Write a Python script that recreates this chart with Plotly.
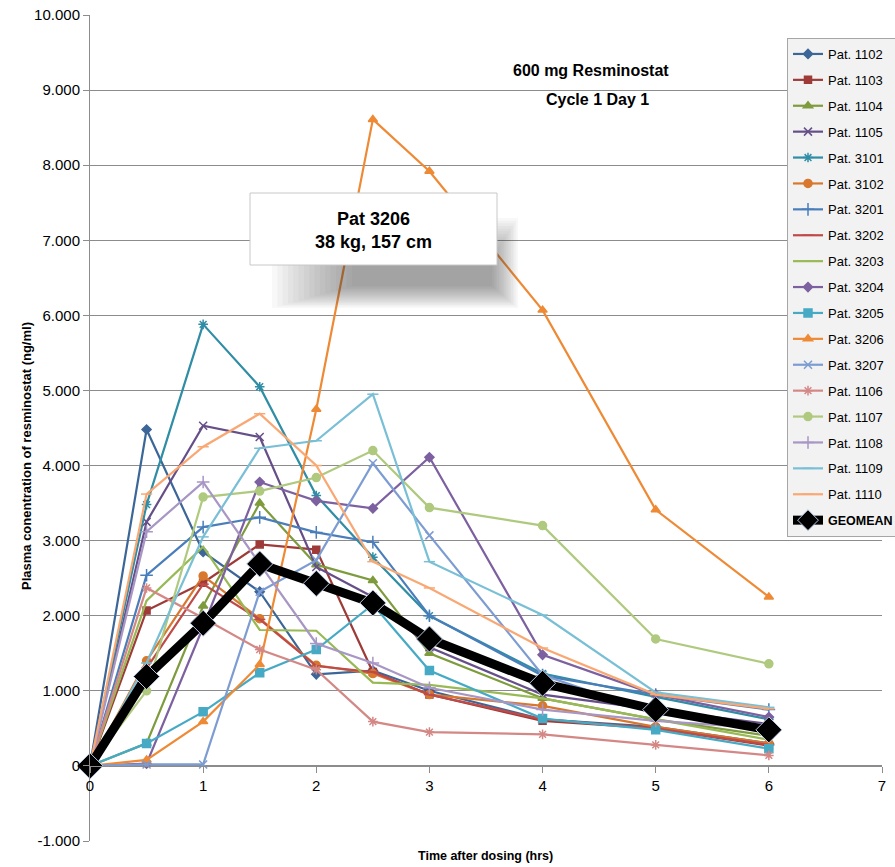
import plotly.graph_objects as go

# ---------------- data (ng/ml) ----------------
times = [0, 0.5, 1, 1.5, 2, 2.5, 3, 4, 5, 6]

patients = ["Pat. 1102", "Pat. 1103", "Pat. 1104", "Pat. 1105", "Pat. 3101", "Pat. 3102",
            "Pat. 3201", "Pat. 3202", "Pat. 3203", "Pat. 3204", "Pat. 3205", "Pat. 3206",
            "Pat. 3207", "Pat. 1106", "Pat. 1107", "Pat. 1108", "Pat. 1109", "Pat. 1110"]

pat_1102 = [0, 4480, 2850, 2320, 1220, 1270, 1000, 620, 520, 300]
pat_1103 = [0, 2070, 2440, 2950, 2880, 1250, 950, 600, 500, 270]
pat_1104 = [0, 300, 2130, 3500, 2680, 2470, 1500, 900, 620, 400]
pat_1105 = [0, 3250, 4530, 4380, 2650, 2250, 1580, 950, 750, 560]
pat_3101 = [0, 3480, 5880, 5050, 3600, 2780, 2000, 1230, 920, 620]
pat_3102 = [0, 1400, 2530, 1960, 1340, 1230, 950, 800, 520, 300]
pat_3201 = [0, 2540, 3180, 3310, 3110, 2980, 2000, 1200, 950, 750]
pat_3202 = [0, 1300, 2420, 1950, 1330, 1250, 950, 620, 500, 280]
pat_3203 = [0, 2200, 2920, 1810, 1800, 1110, 1080, 900, 620, 350]
pat_3204 = [0, 30, 1850, 3780, 3530, 3430, 4110, 1480, 950, 650]
pat_3205 = [0, 300, 720, 1240, 1550, 2150, 1270, 630, 480, 230]
pat_3206 = [0, 80, 590, 1350, 4750, 8610, 7920, 6070, 3410, 2250]
pat_3207 = [0, 20, 20, 2320, 2740, 4030, 3070, 1210, 700, 500]
pat_1106 = [0, 2370, 1970, 1550, 1280, 590, 450, 420, 280, 140]
pat_1107 = [0, 1000, 3580, 3660, 3840, 4200, 3440, 3200, 1690, 1360]
pat_1108 = [0, 3120, 3780, 2690, 1630, 1370, 1040, 750, 600, 500]
pat_1109 = [0, 1370, 3050, 4230, 4330, 4950, 2720, 2010, 980, 780]
pat_1110 = [0, 3620, 4250, 4690, 4000, 2720, 2370, 1570, 950, 760]
geomean = [0, 1190, 1900, 2690, 2430, 2170, 1690, 1100, 750, 480]

series_values = [pat_1102, pat_1103, pat_1104, pat_1105, pat_3101, pat_3102,
                 pat_3201, pat_3202, pat_3203, pat_3204, pat_3205, pat_3206,
                 pat_3207, pat_1106, pat_1107, pat_1108, pat_1109, pat_1110]

y_tick_vals = [-1000, 0, 1000, 2000, 3000, 4000, 5000, 6000, 7000, 8000, 9000, 10000]
y_tick_text = ["-1.000", "0", "1.000", "2.000", "3.000", "4.000", "5.000",
               "6.000", "7.000", "8.000", "9.000", "10.000"]
x_tick_vals = [0, 1, 2, 3, 4, 5, 6, 7]
x_tick_text = ["0", "1", "2", "3", "4", "5", "6", "7"]

# ---------------- styles ----------------
colors = ["#3C6698", "#9E3B38", "#7E9B3E", "#664F88", "#2F8DA5", "#D8782E",
          "#4A7EBB", "#BE4B48", "#98B954", "#7D60A0", "#46AAC5", "#EE8A35",
          "#7C9CD2", "#D48886", "#AFCA7E", "#A896C5", "#79BFD6", "#F9A873"]
symbols = ["diamond", "square", "triangle-up", "x-thin-open", "asterisk-open", "circle",
           "cross-thin-open", "line-ew-open", "line-ew-open", "diamond", "square", "triangle-up",
           "x-thin-open", "asterisk-open", "circle", "cross-thin-open", "line-ew-open", "line-ew-open"]
sizes = [7, 7, 8, 8, 8, 8, 9, 8, 1, 7, 8, 8, 8, 8, 8, 9, 8, 8]

FONT = "Liberation Sans, Arial, sans-serif"

fig = go.Figure()
for i, (name, vals) in enumerate(zip(patients, series_values)):
    fig.add_trace(go.Scatter(
        x=times, y=vals, name=name, mode="lines+markers",
        line=dict(color=colors[i], width=2.2),
        marker=dict(symbol=symbols[i], size=sizes[i], color=colors[i],
                    line=dict(color=colors[i], width=1.5)),
        cliponaxis=False, legendgroup=name,
    ))

fig.add_trace(go.Scatter(
    x=times, y=geomean, name='<span style="font-size:12.5px"><b>GEOMEAN</b></span>',
    mode="lines+markers",
    line=dict(color="#000000", width=9),
    marker=dict(symbol="diamond", size=20, color="#000000",
                line=dict(color="#B8C8E0", width=1)),
    cliponaxis=False, legendgroup="geo",
))

# ---------------- layout ----------------
plot_l, plot_t, plot_w, plot_h = 90, 15, 792, 826


def px(x):
    return (x - plot_l) / plot_w


def py(y):
    return (plot_t + plot_h - y) / plot_h


shapes = []
# soft shadow of the callout box
layers = 16
for k in range(layers):
    f = k / (layers - 1)
    x0 = 272 + 80 * f
    x1 = 518 - 26 * f
    y0 = 218 + 40 * f
    y1 = 308 - 22 * f
    shapes.append(dict(type="rect", xref="paper", yref="paper",
                       x0=px(x0), x1=px(x1), y0=py(y1), y1=py(y0),
                       fillcolor="rgba(70,70,70,0.035)", line=dict(width=0),
                       layer="above"))
shapes.append(dict(type="rect", xref="paper", yref="paper",
                   x0=px(250), x1=px(497), y0=py(265), y1=py(193),
                   fillcolor="#FFFFFF", line=dict(color="#C8C8C8", width=1),
                   layer="above"))


def label(text, x, y, size, angle=0):
    return dict(text=text, xref="paper", yref="paper", x=px(x), y=py(y),
                xanchor="center", yanchor="middle", showarrow=False,
                textangle=angle, align="center",
                font=dict(family=FONT, size=size, color="#000000"))


annotations = [
    label("<b>Pat 3206<br>38 kg, 157 cm</b>", 373.5, 230, 18),
    label("<b>600 mg Resminostat</b>", 591, 70, 16),
    label("<b>Cycle 1 Day 1</b>", 597, 100, 16),
    label("<b>Plasma conentration of resminostat (ng/ml)</b>", 26, 456, 13, -90),
    label("<b>Time after dosing (hrs)</b>", 485, 856, 12.5),
]

fig.update_layout(
    width=895, height=867,
    margin=dict(l=plot_l, r=895 - plot_l - plot_w, t=plot_t, b=867 - plot_t - plot_h,
                autoexpand=False),
    paper_bgcolor="#FFFFFF", plot_bgcolor="#FFFFFF",
    font=dict(family=FONT, size=15, color="#000000"),
    showlegend=True,
    legend=dict(x=px(787), y=py(38), xanchor="left", yanchor="top",
                bgcolor="#F2F2F2", bordercolor="#A6A6A6", borderwidth=1,
                font=dict(family=FONT, size=13, color="#000000"),
                traceorder="grouped", tracegroupgap=6, itemwidth=30,
                itemsizing="trace"),
    xaxis=dict(range=[0, 7], tickvals=x_tick_vals, ticktext=x_tick_text,
               anchor="free", position=1 / 11, showgrid=False, zeroline=False,
               showline=True, linecolor="#8C8C8C", linewidth=1,
               ticks="outside", ticklen=6, tickcolor="#8C8C8C",
               tickfont=dict(family=FONT, size=15, color="#000000")),
    yaxis=dict(range=[-1000, 10000], tickvals=y_tick_vals, ticktext=y_tick_text,
               showgrid=True, gridcolor="#8C8C8C", gridwidth=1, zeroline=False,
               showline=True, linecolor="#8C8C8C", linewidth=1,
               ticks="outside", ticklen=6, tickcolor="#8C8C8C",
               tickfont=dict(family=FONT, size=15, color="#000000")),
    shapes=shapes, annotations=annotations,
    hovermode=False,
)

fig.write_html("out.html")
